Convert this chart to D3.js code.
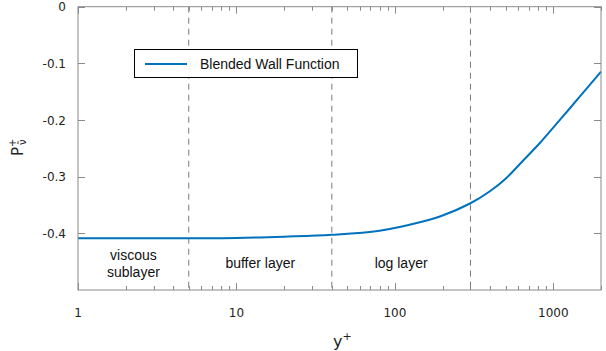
<!DOCTYPE html>
<html><head><meta charset="utf-8">
<script src="https://cdn.jsdelivr.net/npm/d3@7"></script>
<style>body{margin:0;background:#fff;}svg{display:block;}</style>
</head><body>
<svg id="c" width="606" height="351"></svg>
<script>
// Data
const yPlus = [1, 2, 5, 10, 20, 40, 80, 150, 200, 300, 400, 500, 650, 820, 1100, 1500, 2000];
const pNu   = [-0.4087, -0.4087, -0.4085, -0.4081, -0.4058, -0.4025, -0.3953, -0.379, -0.3685, -0.3469, -0.3252, -0.3035, -0.2705, -0.2410, -0.1999, -0.1558, -0.1147];
const xMajorTicks = [1, 10, 100, 1000];
const xTickLabels = ["1", "10", "100", "1000"];
const yTicks = [0, -0.1, -0.2, -0.3, -0.4];
const yTickLabels = ["0", "-0.1", "-0.2", "-0.3", "-0.4"];
const regionBounds = [5, 40, 300];
const regionLabels = [["viscous", "sublayer"], ["buffer layer"], ["log layer"]];
const regionCenters = [[1, 5], [5, 40], [40, 300]];
const seriesName = "Blended Wall Function";

const svg = d3.select("#c");
const L = 78, R = 601, T = 6.7, B = 290;
const x = d3.scaleLog().domain([1, 2000]).range([L, R]);
const y = d3.scaleLinear().domain([-0.5, 0]).range([B, T]);
const axisCol = "#8a8a8a";
const txtFont = "'DejaVu Sans', Verdana, sans-serif";
const annFont = "'Liberation Sans', Arial, sans-serif";

// dashed region lines
svg.selectAll("line.reg").data(regionBounds).enter().append("line")
  .attr("x1", d => x(d)).attr("x2", d => x(d)).attr("y1", T).attr("y2", B)
  .attr("stroke", "#7a7a7a").attr("stroke-width", 1).attr("stroke-dasharray", "6,5");

// curve
const line = d3.line().x((d, i) => x(yPlus[i])).y(d => y(d)).curve(d3.curveCatmullRom.alpha(0.5));
svg.append("path").datum(pNu).attr("d", line).attr("fill", "none")
  .attr("stroke", "#0072BD").attr("stroke-width", 2);

// axes box
svg.append("rect").attr("x", L).attr("y", T).attr("width", R - L).attr("height", B - T)
  .attr("fill", "none").attr("stroke", axisCol).attr("stroke-width", 1);

// x ticks
const allX = x.ticks();
allX.forEach(v => {
  const maj = xMajorTicks.includes(v);
  const len = maj ? 7 : 4;
  const px = Math.round(x(v)) + 0.5;
  svg.append("line").attr("x1", px).attr("x2", px).attr("y1", B).attr("y2", B - len).attr("stroke", axisCol);
  svg.append("line").attr("x1", px).attr("x2", px).attr("y1", T).attr("y2", T + len).attr("stroke", axisCol);
});
svg.selectAll("text.xt").data(xMajorTicks).enter().append("text")
  .attr("x", d => x(d)).attr("y", 317).attr("text-anchor", "middle")
  .attr("font-family", txtFont).attr("font-size", 12).attr("fill", "#222")
  .text((d, i) => xTickLabels[i]);

// y ticks
yTicks.forEach(v => {
  const py = Math.round(y(v)) + 0.5;
  svg.append("line").attr("x1", L).attr("x2", L + 7).attr("y1", py).attr("y2", py).attr("stroke", axisCol);
  svg.append("line").attr("x1", R).attr("x2", R - 7).attr("y1", py).attr("y2", py).attr("stroke", axisCol);
});
svg.selectAll("text.yt").data(yTicks).enter().append("text")
  .attr("x", 66).attr("y", d => y(d) + 4.5).attr("text-anchor", "end")
  .attr("font-family", txtFont).attr("font-size", 12).attr("fill", "#222")
  .text((d, i) => yTickLabels[i]);

// axis labels
const xl = svg.append("text").attr("x", 333).attr("y", 347)
  .attr("font-family", txtFont).attr("font-size", 16).attr("fill", "#222");
xl.append("tspan").text("y");
xl.append("tspan").attr("dy", -7).attr("font-size", 11).text("+");

const yl = svg.append("text").attr("transform", "translate(23,156) rotate(-90)")
  .attr("font-family", txtFont).attr("font-size", 15).attr("fill", "#222");
yl.append("tspan").text("P");
yl.append("tspan").attr("dy", -7).attr("font-size", 10).text("+");
yl.append("tspan").attr("dx", -6.5).attr("dy", 10).attr("font-size", 10).text("ν̃");

// region labels
regionLabels.forEach((lines, i) => {
  const cx = x(Math.sqrt(regionCenters[i][0] * regionCenters[i][1]));
  const base = lines.length === 2 ? 260 : 268;
  lines.forEach((t, j) => {
    svg.append("text").attr("x", cx).attr("y", base + j * 17).attr("text-anchor", "middle")
      .attr("font-family", annFont).attr("font-size", 14).attr("fill", "#111").text(t);
  });
});

// legend
svg.append("rect").attr("x", 134.5).attr("y", 49.5).attr("width", 223).attr("height", 28)
  .attr("fill", "#fff").attr("stroke", "#000").attr("stroke-width", 1);
svg.append("line").attr("x1", 145).attr("x2", 187).attr("y1", 64).attr("y2", 64)
  .attr("stroke", "#0072BD").attr("stroke-width", 2);
svg.append("text").attr("x", 200).attr("y", 69).attr("font-family", annFont)
  .attr("font-size", 14).attr("fill", "#111").text(seriesName);
</script>
</body></html>
